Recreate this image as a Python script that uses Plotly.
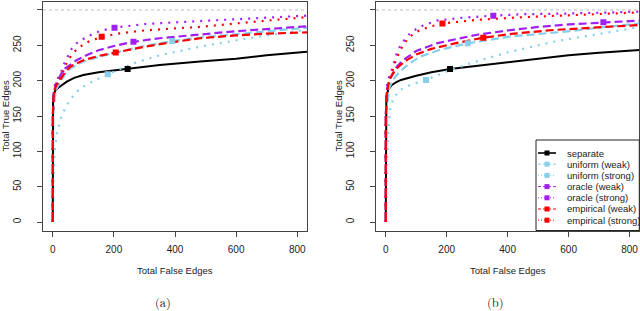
import plotly.graph_objects as go

W, H = 640, 311

series_names = ["separate", "uniform (weak)", "uniform (strong)", "oracle (weak)",
                "oracle (strong)", "empirical (weak)", "empirical (strong)"]
series_colors = ["#000000", "#87CEEB", "#87CEEB", "#A020F0", "#A020F0", "#FF0000", "#FF0000"]
series_dash = ["solid", "8px,4px", "2px,6px", "8px,4px", "2px,6px", "8px,4px", "2px,6px"]

x_ticks = [0, 200, 400, 600, 800]
y_ticks = [0, 50, 100, 150, 200, 250, 300]
total_true = 300

# ---------------- panel (a) ----------------
a_separate_x = [0, 0, 1, 3, 8, 18, 30, 46, 70, 100, 150, 245, 350, 482, 600, 700, 832]
a_separate_y = [0, 160, 172, 180, 186, 190, 194, 198.5, 204, 208, 212, 216.5, 222, 227, 231, 236, 241]
a_unif_weak_x = [0, 0, 2, 6, 12, 24, 40, 60, 100, 155, 206, 300, 391, 482, 600, 700, 832]
a_unif_weak_y = [0, 120, 155, 175, 188, 198.5, 209, 218, 227, 234, 240, 249, 256, 261, 266, 270, 275]
a_unif_strong_x = [0, 1, 3, 7.5, 15, 24, 40, 56, 80, 100, 140, 180, 264, 350, 482, 600, 700, 832]
a_unif_strong_y = [0, 40, 75, 106, 128, 144, 161, 172.6, 185, 191.5, 201, 209, 224.5, 236, 248, 257, 264, 272]
a_orac_weak_x = [0, 0, 3, 10, 18, 28, 40, 60, 78, 110, 150, 200, 264, 350, 482, 600, 700, 832]
a_orac_weak_y = [0, 150, 182, 195, 201, 210, 217, 224, 229, 236, 243, 249, 255, 260, 265.6, 270, 273, 277]
a_orac_strong_x = [0, 0, 3, 8, 14, 24, 34, 46, 60, 78, 100, 130, 160, 202, 300, 400, 482, 600, 700, 832]
a_orac_strong_y = [0, 150, 184, 196, 202, 208, 221, 232, 244, 252.8, 259, 266, 271, 275, 280, 282.5, 284.4, 287, 289.5, 292]
a_emp_weak_x = [0, 0, 3, 10, 24, 40, 57, 80, 100, 150, 206, 300, 400, 482, 600, 700, 832]
a_emp_weak_y = [0, 150, 180, 192, 201, 212, 219.8, 225, 229, 235, 240, 248, 255, 260, 264, 266.5, 268.4]
a_emp_strong_x = [0, 0, 3, 12, 20, 28, 38, 50, 65, 80, 110, 160, 220, 300, 400, 482, 600, 700, 832]
a_emp_strong_y = [0, 150, 180, 196, 201, 205.6, 218, 229, 238, 245, 254, 262, 267, 271, 274, 276, 281, 285, 290]
a_marker_x = [245, 391, 180, 264, 202, 206, 160]
a_marker_y = [216.5, 256, 209, 255, 275, 240, 262]

# ---------------- panel (b) ----------------
b_separate_x = [0, 0, 2, 8, 20, 35, 50, 100, 150, 211, 300, 441, 600, 700, 833]
b_separate_y = [0, 160, 178, 187, 194, 198, 201, 207, 212, 216.5, 221, 229, 236, 239.5, 243.4]
b_unif_weak_x = [0, 0, 3, 12, 22, 36, 60, 80, 113, 180, 269, 400, 500, 605, 700, 833]
b_unif_weak_y = [0, 120, 160, 190, 200, 208, 218, 225, 234, 244, 252.8, 262, 266, 270, 275, 281]
b_unif_strong_x = [0, 1, 3, 6, 10, 14, 25, 47, 80, 132, 200, 277, 400, 550, 700, 833]
b_unif_strong_y = [0, 40, 80, 110, 140, 158.5, 175, 186.8, 194, 201, 213, 224.5, 240, 255, 266, 276]
b_orac_weak_x = [0, 0, 5, 12, 20, 35, 57, 100, 167, 240, 300, 400, 500, 600, 714, 833]
b_orac_weak_y = [0, 150, 190, 201, 208, 219, 229, 242, 252.8, 260, 265, 271, 276, 279.5, 282.5, 285]
b_orac_strong_x = [0, 0, 5, 12, 20, 28, 36, 50, 65, 80, 110, 167, 250, 353, 450, 600, 700, 833]
b_orac_strong_y = [0, 150, 195, 207, 215, 228, 238.7, 251, 260, 267, 276, 285, 289, 292, 294, 295, 296.3, 297.6]
b_emp_weak_x = [0, 0, 4, 14, 30, 45, 69, 100, 150, 230, 320, 420, 550, 700, 833]
b_emp_weak_y = [0, 150, 185, 203, 214, 221, 229, 237, 245, 253, 260.8, 266.5, 271.7, 275.5, 278.8]
b_emp_strong_x = [0, 0, 5, 12, 20, 30, 47, 70, 90, 113, 150, 186, 300, 441, 600, 700, 833]
b_emp_strong_y = [0, 150, 190, 202, 210.6, 225, 243, 258, 266, 271.7, 277, 281, 286, 289.6, 292.5, 294.5, 296.6]
b_marker_x = [211, 269, 132, 714, 353, 320, 186]
b_marker_y = [216.5, 252.8, 201, 282.5, 292, 260.8, 281]

panel_a = [(a_separate_x, a_separate_y), (a_unif_weak_x, a_unif_weak_y), (a_unif_strong_x, a_unif_strong_y),
           (a_orac_weak_x, a_orac_weak_y), (a_orac_strong_x, a_orac_strong_y),
           (a_emp_weak_x, a_emp_weak_y), (a_emp_strong_x, a_emp_strong_y)]
panel_b = [(b_separate_x, b_separate_y), (b_unif_weak_x, b_unif_weak_y), (b_unif_strong_x, b_unif_strong_y),
           (b_orac_weak_x, b_orac_weak_y), (b_orac_strong_x, b_orac_strong_y),
           (b_emp_weak_x, b_emp_weak_y), (b_emp_strong_x, b_emp_strong_y)]


def px(x):
    return x / W


def py(y):
    return 1 - y / H


fig = go.Figure()

for panel, (xa, ya), mx, my in [(panel_a, ("x", "y"), a_marker_x, a_marker_y),
                                 (panel_b, ("x2", "y2"), b_marker_x, b_marker_y)]:
    for i, (xs, ys) in enumerate(panel):
        fig.add_trace(go.Scatter(
            x=xs, y=ys, mode="lines", xaxis=xa, yaxis=ya, showlegend=False,
            line=dict(color=series_colors[i], width=2.2 if i else 2.0, dash=series_dash[i]),
            hoverinfo="skip"))
    for i in range(len(series_names)):
        fig.add_trace(go.Scatter(
            x=[mx[i]], y=[my[i]], mode="markers", xaxis=xa, yaxis=ya, showlegend=False,
            marker=dict(symbol="square", size=6, color=series_colors[i]),
            hoverinfo="skip"))

font = "Liberation Sans, Arial, sans-serif"
axis_common = dict(
    showgrid=False, zeroline=False, showline=True, mirror=True,
    linecolor="#444444", linewidth=1, ticks="outside", ticklen=5, tickcolor="#444444",
    tickfont=dict(family=font, size=10, color="#222222"),
)

ydom = [py(230.5), py(1.5)]
fig.update_layout(
    width=W, height=H, margin=dict(l=0, r=0, t=0, b=0),
    paper_bgcolor="white", plot_bgcolor="white",
    xaxis=dict(domain=[px(43), px(307)], range=[-32, 832], tickvals=x_ticks, ticklabelstandoff=4, **axis_common),
    yaxis=dict(domain=ydom, range=[-12, 312], tickvals=y_ticks, tickangle=-90, ticklabelstandoff=12, **axis_common),
    xaxis2=dict(domain=[px(376), px(639.3)], range=[-32, 832], tickvals=x_ticks, ticklabelstandoff=4,
                anchor="y2", **axis_common),
    yaxis2=dict(domain=ydom, range=[-12, 312], tickvals=y_ticks, tickangle=-90, ticklabelstandoff=12,
                anchor="x2", **axis_common),
)

shapes = []
for xr, yr in [("x", "y"), ("x2", "y2")]:
    shapes.append(dict(type="line", xref=xr + " domain", yref=yr, x0=0, x1=1, y0=total_true, y1=total_true,
                       line=dict(color="#bbbbbb", width=1, dash="dot"), layer="below"))

annotations = []
for cx, lx, cap, capx in [(175, 4.5, "(a)", 163), (507.5, 337.5, "(b)", 495.7)]:
    annotations.append(dict(xref="paper", yref="paper", x=px(cx), y=py(270.7), text="Total False Edges",
                            showarrow=False, xanchor="center", yanchor="middle",
                            font=dict(family=font, size=9.5, color="#222222")))
    annotations.append(dict(xref="paper", yref="paper", x=px(lx), y=py(116), text="Total True Edges",
                            showarrow=False, xanchor="center", yanchor="middle", textangle=-90,
                            font=dict(family=font, size=9.5, color="#222222")))
    annotations.append(dict(xref="paper", yref="paper", x=px(capx), y=py(301.5), text=cap,
                            showarrow=False, xanchor="center", yanchor="middle",
                            font=dict(family="Latin Modern Roman, DejaVu Serif, Liberation Serif, serif",
                                      size=12.5, color="#222222")))

# legend (panel b)
shapes.append(dict(type="rect", xref="paper", yref="paper", x0=px(536), x1=px(639.3), y0=py(230.5), y1=py(140),
                   line=dict(color="#222222", width=1), fillcolor="white", layer="above"))
for i, name in enumerate(series_names):
    yy = 153 + i * 11.2
    shapes.append(dict(type="line", xref="paper", yref="paper", x0=px(538), x1=px(556), y0=py(yy), y1=py(yy),
                       line=dict(color=series_colors[i], width=1.6 if i == 0 else 1,
                                 dash="solid" if i == 0 else ("3px,2px" if series_dash[i].startswith("8") else "1px,2px")),
                       layer="above"))
    shapes.append(dict(type="rect", xref="paper", yref="paper", x0=px(544.5), x1=px(549.5),
                       y0=py(yy + 2.5), y1=py(yy - 2.5), line=dict(width=0),
                       fillcolor=series_colors[i], layer="above"))
    annotations.append(dict(xref="paper", yref="paper", x=px(565), y=py(yy), text=name, showarrow=False,
                            xanchor="left", yanchor="middle",
                            font=dict(family=font, size=9.5, color="#222222")))

fig.update_layout(shapes=shapes, annotations=annotations)
fig.write_html("out.html", config={"displayModeBar": False},
               post_script="document.body.style.margin='0px';document.body.style.overflow='hidden';")
